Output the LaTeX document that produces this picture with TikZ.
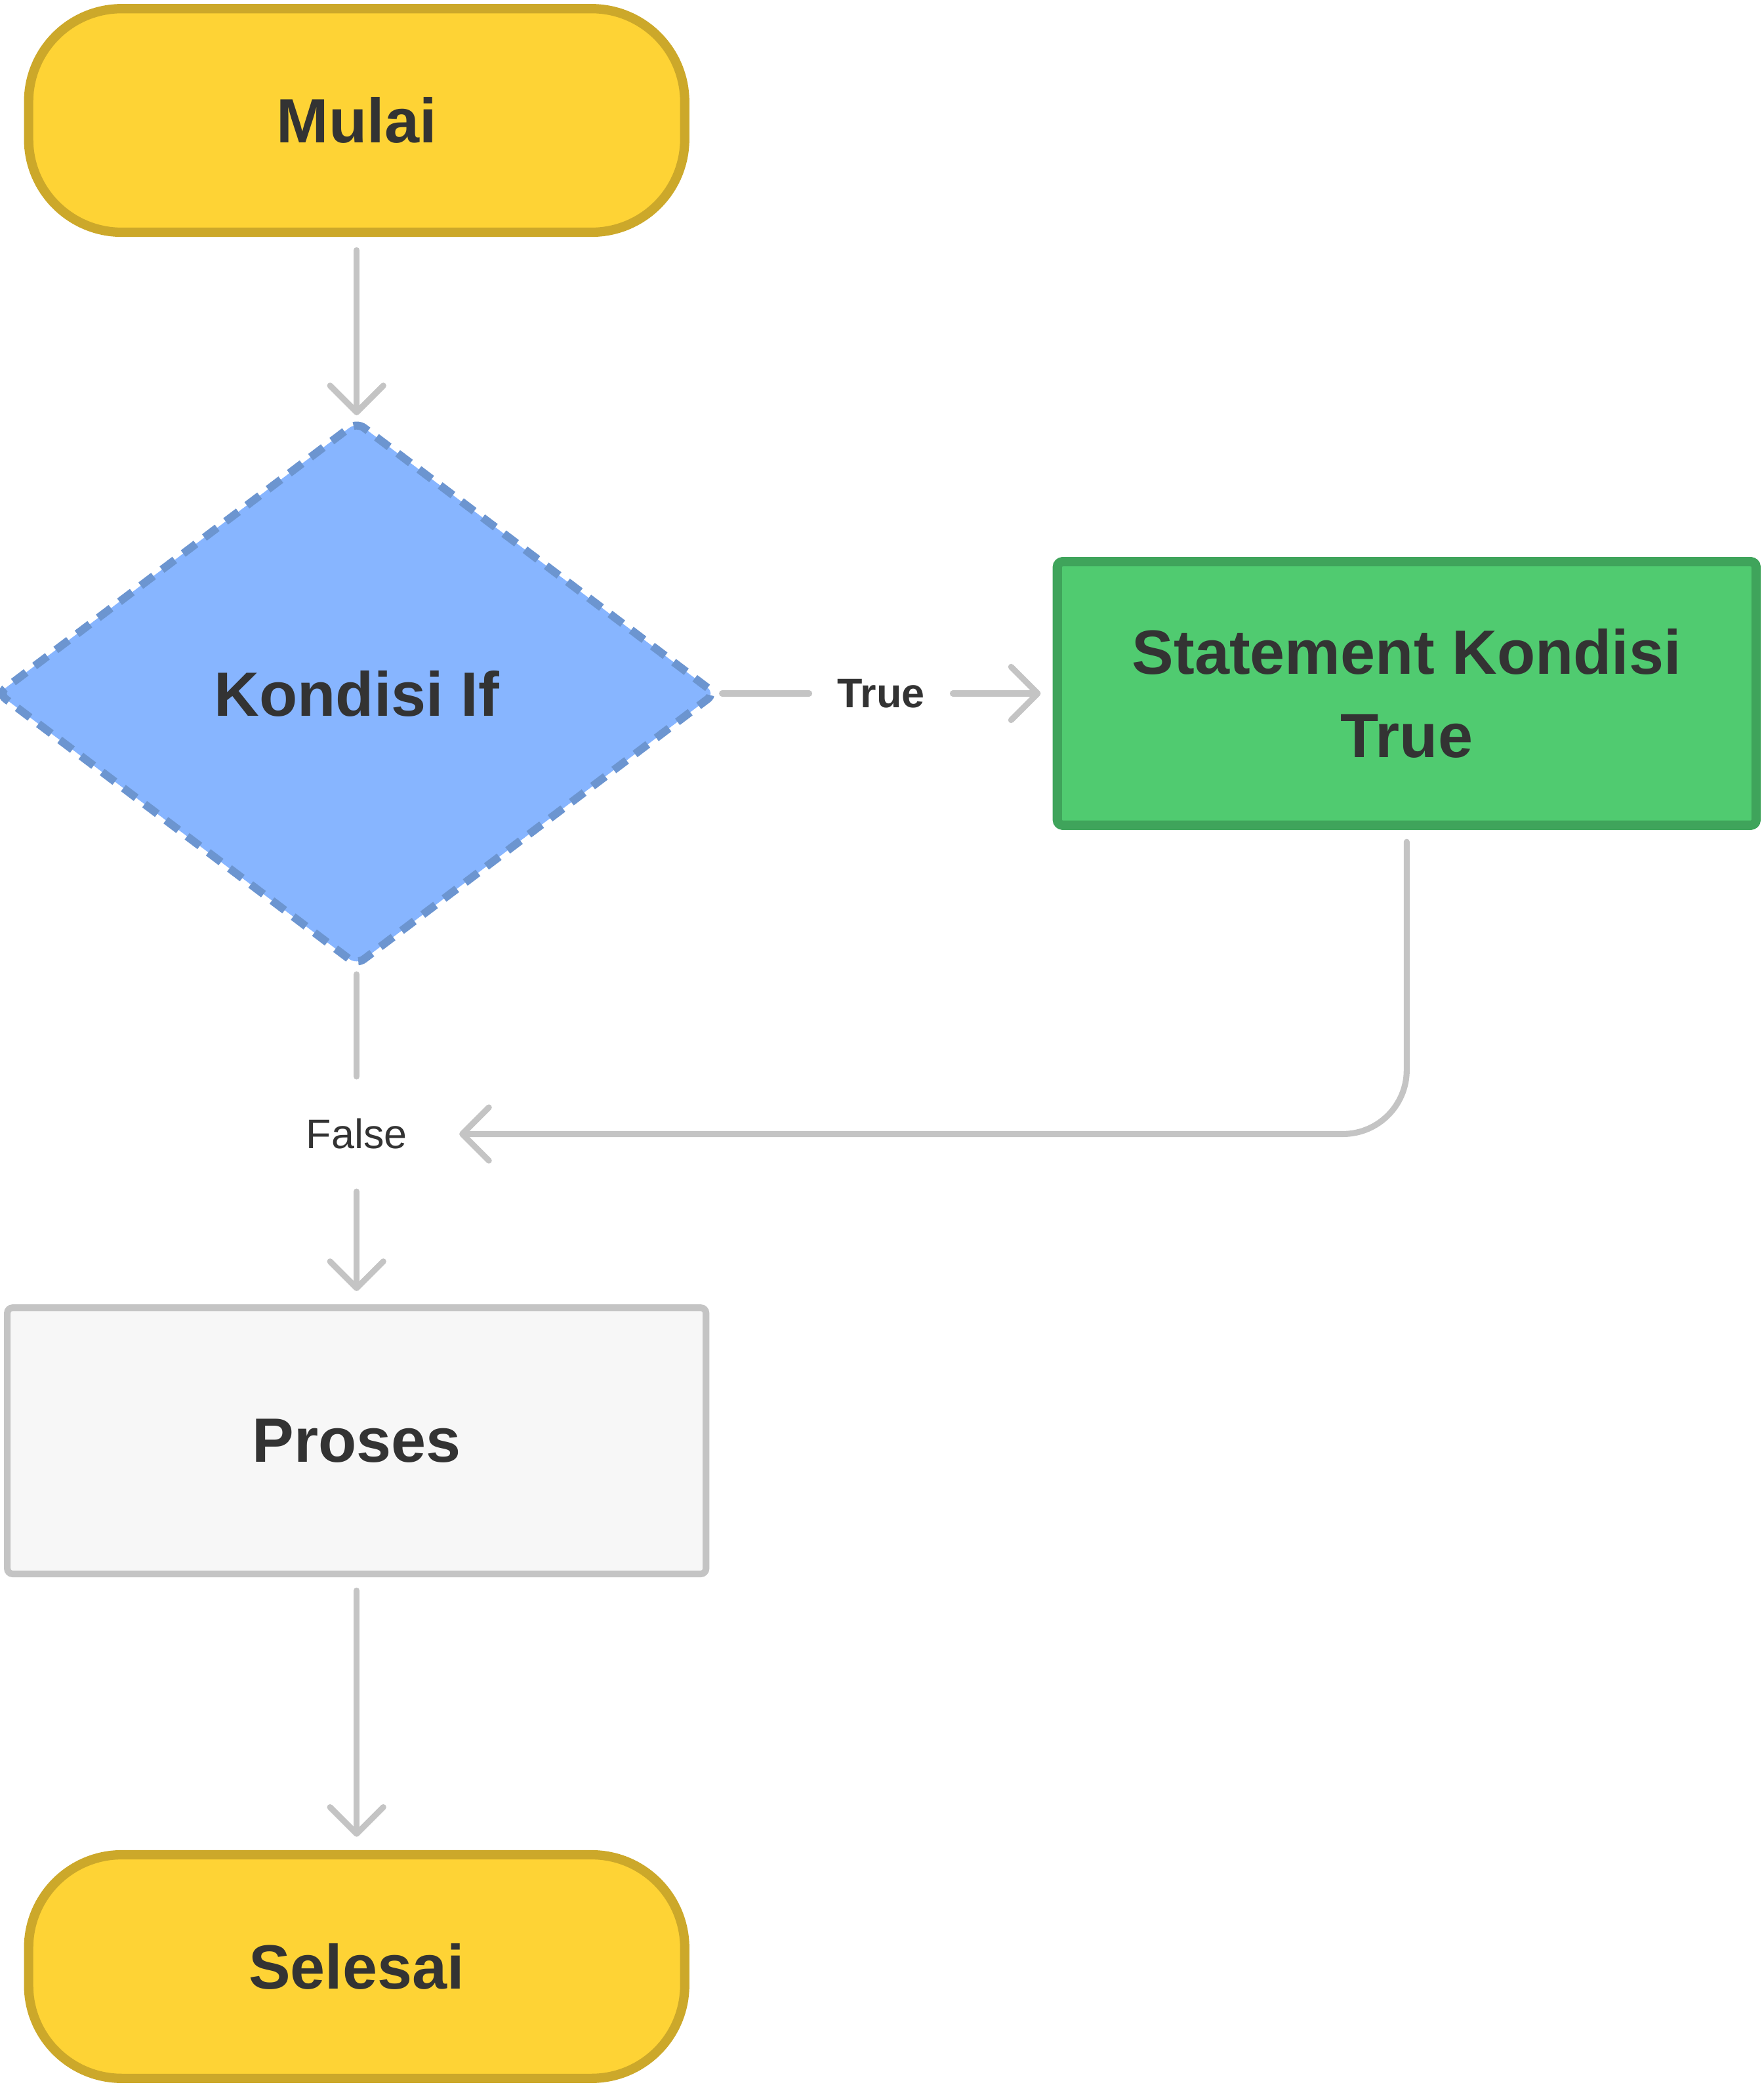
\documentclass[tikz,border=0pt]{standalone}
\usepackage{fontspec}
\setmainfont{Liberation Sans}
\usetikzlibrary{shapes.geometric,arrows.meta}
\definecolor{txt}{HTML}{333333}
\definecolor{yfill}{HTML}{FED335}
\definecolor{ydraw}{HTML}{CCA82A}
\definecolor{bfill}{HTML}{87B5FF}
\definecolor{bdraw}{HTML}{6C95D0}
\definecolor{gfill}{HTML}{50CB70}
\definecolor{gdraw}{HTML}{3FA45B}
\definecolor{pfill}{HTML}{F7F7F7}
\definecolor{pdraw}{HTML}{C4C4C4}
\definecolor{conncol}{HTML}{C4C4C4}
\tikzset{
  bigtext/.style={text=txt, font=\fontsize{47pt}{63pt}\selectfont\bfseries, align=center},
  terminal/.style={bigtext, draw=ydraw, fill=yfill, line width=7pt, rounded corners=70pt,
    minimum width=493pt, minimum height=168pt, inner sep=0pt},
  decision/.style={bigtext, diamond, draw=bdraw, fill=bfill, line width=6pt, rounded corners=7pt,
    dash pattern=on 12pt off 8pt, minimum width=541pt, minimum height=410pt, inner sep=0pt},
  truebox/.style={bigtext, draw=gdraw, fill=gfill, line width=7pt, rounded corners=4pt,
    minimum width=525pt, minimum height=198pt, inner sep=0pt},
  procbox/.style={bigtext, draw=pdraw, fill=pfill, line width=5pt, rounded corners=4pt,
    minimum width=525pt, minimum height=200pt, inner sep=0pt},
  edgelbl/.style={text=txt, font=\fontsize{31pt}{37pt}\selectfont},
  conn/.style={draw=conncol, line width=4.5pt, line cap=round},
  arr/.style={conn, -{Straight Barb[length=20pt, width=40pt, round]}},
}
\begin{document}
\begin{tikzpicture}[x=1pt, y=-1pt]
\useasboundingbox (0,0) rectangle (1325,1568);
\node[terminal] (mulai) at (268,90.5) {Mulai};
\node[decision] (cond) at (268,521) {Kondisi If};
\node[truebox] (stmt) at (1057,521) {Statement Kondisi\\True};
\node[procbox] (proses) at (268,1082.5) {Proses};
\node[terminal] (selesai) at (268,1477.5) {Selesai};
\node[edgelbl, font=\fontsize{31pt}{37pt}\selectfont\bfseries, inner xsep=21pt, inner ysep=0pt] (truelbl) at (662,521) {True};
\node[edgelbl, inner xsep=0pt, inner ysep=0pt, minimum height=86pt] (falselbl) at (268,852) {False};

\draw[arr, shorten <=10pt, shorten >=1pt] (mulai) -- (cond);
\draw[conn, shorten <=1pt] (cond.east) -- (truelbl.west);
\draw[arr, shorten >=9pt] (truelbl.east) -- (stmt.west);
\draw[conn, shorten <=3pt] (cond.south) -- (falselbl.north);
\draw[arr, shorten >=10pt] (falselbl.south) -- (proses.north);
\draw[arr, rounded corners=48pt, shorten <=9pt, shorten >=39pt] (stmt.south) |- (falselbl.east);
\draw[arr, shorten <=10pt, shorten >=10pt] (proses) -- (selesai);
\end{tikzpicture}
\end{document}
